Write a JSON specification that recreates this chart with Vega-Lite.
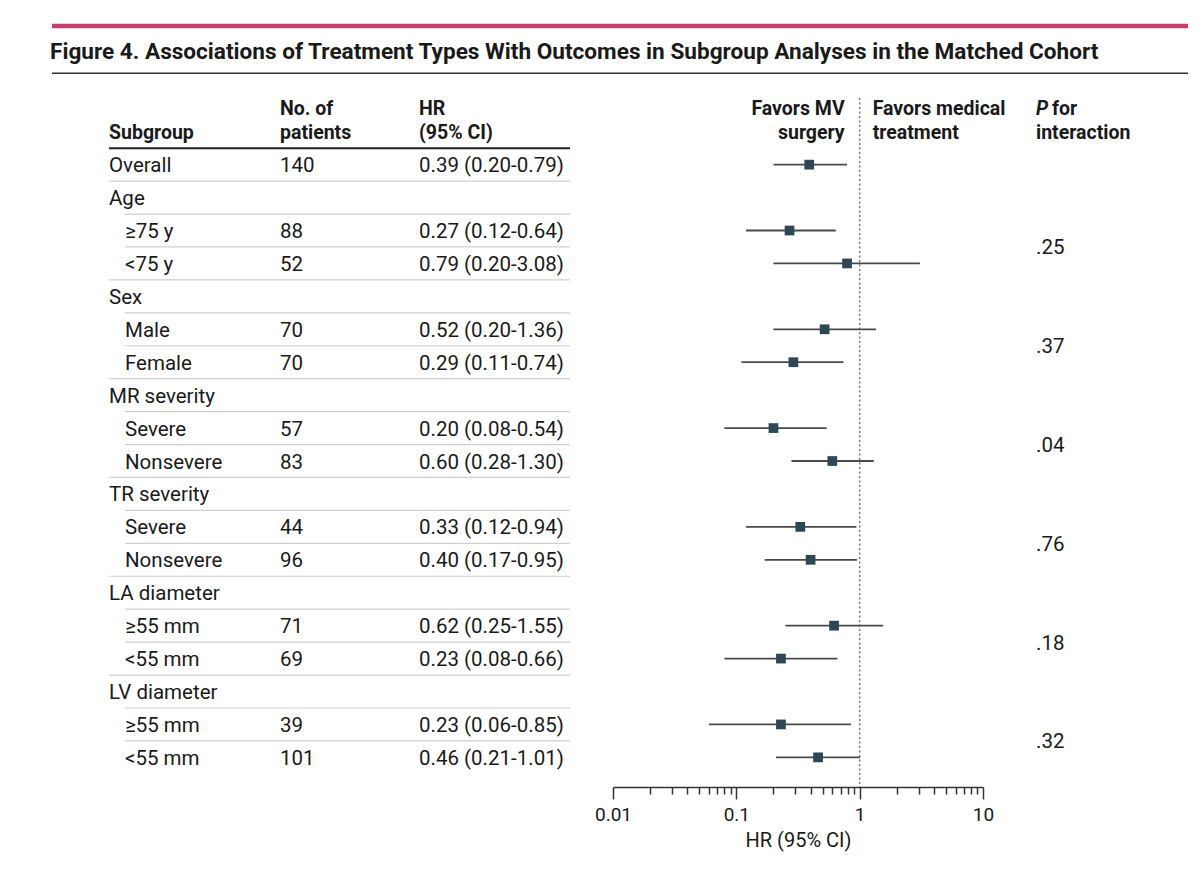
{
  "$schema": "https://vega.github.io/schema/vega-lite/v6.json",
  "width": 1136,
  "height": 787,
  "padding": {"left": 49, "top": 0, "right": 15, "bottom": 20},
  "background": "white",
  "config": {
    "view": {"stroke": null},
    "font": "Roboto",
    "text": {"font": "Roboto", "color": "#1a1a1a"}
  },
  "datasets": {
    "rows": [
      {"r": 0, "label": "Overall", "depth": 0, "n": "140", "hr": 0.39, "lo": 0.20, "hi": 0.79, "hrtxt": "0.39 (0.20-0.79)"},
      {"r": 1, "label": "Age", "depth": 0},
      {"r": 2, "label": "≥75 y", "depth": 1, "n": "88", "hr": 0.27, "lo": 0.12, "hi": 0.64, "hrtxt": "0.27 (0.12-0.64)", "group": "Age", "p": ".25"},
      {"r": 3, "label": "<75 y", "depth": 1, "n": "52", "hr": 0.79, "lo": 0.20, "hi": 3.08, "hrtxt": "0.79 (0.20-3.08)", "group": "Age", "p": ".25"},
      {"r": 4, "label": "Sex", "depth": 0},
      {"r": 5, "label": "Male", "depth": 1, "n": "70", "hr": 0.52, "lo": 0.20, "hi": 1.36, "hrtxt": "0.52 (0.20-1.36)", "group": "Sex", "p": ".37"},
      {"r": 6, "label": "Female", "depth": 1, "n": "70", "hr": 0.29, "lo": 0.11, "hi": 0.74, "hrtxt": "0.29 (0.11-0.74)", "group": "Sex", "p": ".37"},
      {"r": 7, "label": "MR severity", "depth": 0},
      {"r": 8, "label": "Severe", "depth": 1, "n": "57", "hr": 0.20, "lo": 0.08, "hi": 0.54, "hrtxt": "0.20 (0.08-0.54)", "group": "MR severity", "p": ".04"},
      {"r": 9, "label": "Nonsevere", "depth": 1, "n": "83", "hr": 0.60, "lo": 0.28, "hi": 1.30, "hrtxt": "0.60 (0.28-1.30)", "group": "MR severity", "p": ".04"},
      {"r": 10, "label": "TR severity", "depth": 0},
      {"r": 11, "label": "Severe", "depth": 1, "n": "44", "hr": 0.33, "lo": 0.12, "hi": 0.94, "hrtxt": "0.33 (0.12-0.94)", "group": "TR severity", "p": ".76"},
      {"r": 12, "label": "Nonsevere", "depth": 1, "n": "96", "hr": 0.40, "lo": 0.17, "hi": 0.95, "hrtxt": "0.40 (0.17-0.95)", "group": "TR severity", "p": ".76"},
      {"r": 13, "label": "LA diameter", "depth": 0},
      {"r": 14, "label": "≥55 mm", "depth": 1, "n": "71", "hr": 0.62, "lo": 0.25, "hi": 1.55, "hrtxt": "0.62 (0.25-1.55)", "group": "LA diameter", "p": ".18"},
      {"r": 15, "label": "<55 mm", "depth": 1, "n": "69", "hr": 0.23, "lo": 0.08, "hi": 0.66, "hrtxt": "0.23 (0.08-0.66)", "group": "LA diameter", "p": ".18"},
      {"r": 16, "label": "LV diameter", "depth": 0},
      {"r": 17, "label": "≥55 mm", "depth": 1, "n": "39", "hr": 0.23, "lo": 0.06, "hi": 0.85, "hrtxt": "0.23 (0.06-0.85)", "group": "LV diameter", "p": ".32"},
      {"r": 18, "label": "<55 mm", "depth": 1, "n": "101", "hr": 0.46, "lo": 0.21, "hi": 1.01, "hrtxt": "0.46 (0.21-1.01)", "group": "LV diameter", "p": ".32"}
    ],
    "headers": [
      {"c": 0, "t": "\nSubgroup"},
      {"c": 2, "t": "No. of\npatients"},
      {"c": 3, "t": "HR\n(95% CI)"},
      {"c": 5, "t": "\ninteraction"}
    ]
  },
  "data": {"name": "rows"},
  "layer": [
    {
      "layer": [
        {
          "data": {"values": [{}]},
          "mark": {"type": "text", "align": "left", "baseline": "alphabetic", "fontSize": 22.6, "fontWeight": "bold", "dx": -2},
          "encoding": {
            "x": {"datum": -1, "type": "quantitative", "axis": null,
                  "scale": {"type": "linear", "domain": [-1, 0, 1, 2, 3, 4, 5], "range": [0, 57, 73, 228, 367, 518, 984], "nice": false, "zero": false}},
            "y": {"datum": -3.199, "type": "quantitative", "axis": null,
                  "scale": {"domain": [-5, 18.9], "reverse": true, "nice": false, "zero": false}},
            "text": {"value": "Figure 4. Associations of Treatment Types With Outcomes in Subgroup Analyses in the Matched Cohort"}
          }
        },
        {
          "data": {"values": [{}]},
          "mark": {"type": "rule", "color": "#c8406a", "strokeWidth": 4.5},
          "encoding": {"y": {"datum": -4.2104, "type": "quantitative", "axis": null}}
        },
        {
          "data": {"values": [{}]},
          "mark": {"type": "rule", "color": "#333333", "strokeWidth": 1.5},
          "encoding": {"y": {"datum": -2.774, "type": "quantitative", "axis": null}}
        },
        {
          "data": {"values": [{}]},
          "mark": {"type": "rule", "color": "#222222", "strokeWidth": 2},
          "encoding": {
            "x": {"datum": 0, "type": "quantitative", "axis": null},
            "x2": {"datum": 4},
            "y": {"datum": -0.5, "type": "quantitative", "axis": null}
          }
        },
        {
          "transform": [{"filter": "datum.r > 0"}],
          "mark": {"type": "rule", "color": "#cfcfcf", "strokeWidth": 1.2, "yOffset": -16.46},
          "encoding": {
            "x": {"field": "depth", "type": "quantitative", "axis": null},
            "x2": {"datum": 4},
            "y": {"field": "r", "type": "quantitative", "axis": null}
          }
        },
        {
          "mark": {"type": "text", "align": "left", "baseline": "middle", "fontSize": 20.5, "dy": 1.5},
          "encoding": {
            "x": {"field": "depth", "type": "quantitative", "axis": null},
            "y": {"field": "r", "type": "quantitative", "axis": null},
            "text": {"field": "label", "type": "nominal"}
          }
        },
        {
          "transform": [{"filter": "isValid(datum.n)"}],
          "mark": {"type": "text", "align": "left", "baseline": "middle", "fontSize": 20.5, "dy": 1.5},
          "encoding": {
            "x": {"datum": 2, "type": "quantitative", "axis": null},
            "y": {"field": "r", "type": "quantitative", "axis": null},
            "text": {"field": "n", "type": "nominal"}
          }
        },
        {
          "transform": [{"filter": "isValid(datum.hrtxt)"}],
          "mark": {"type": "text", "align": "left", "baseline": "middle", "fontSize": 20.5, "dy": 1.5},
          "encoding": {
            "x": {"datum": 3, "type": "quantitative", "axis": null},
            "y": {"field": "r", "type": "quantitative", "axis": null},
            "text": {"field": "hrtxt", "type": "nominal"}
          }
        },
        {
          "transform": [
            {"filter": "isValid(datum.p)"},
            {"aggregate": [{"op": "mean", "field": "r", "as": "r"}], "groupby": ["group", "p"]}
          ],
          "mark": {"type": "text", "align": "left", "baseline": "middle", "fontSize": 20.5, "dy": 1.5},
          "encoding": {
            "x": {"datum": 5, "type": "quantitative", "axis": null},
            "y": {"field": "r", "type": "quantitative", "axis": null},
            "text": {"field": "p", "type": "nominal"}
          }
        },
        {
          "data": {"name": "headers"},
          "mark": {"type": "text", "align": "left", "baseline": "alphabetic", "fontSize": 19.5, "fontWeight": "bold", "lineBreak": "\n", "lineHeight": 24.5},
          "encoding": {
            "x": {"field": "c", "type": "quantitative", "axis": null},
            "y": {"datum": -1.5077, "type": "quantitative", "axis": null},
            "text": {"field": "t", "type": "nominal"}
          }
        },
        {
          "data": {"values": [{}]},
          "mark": {"type": "text", "align": "left", "baseline": "alphabetic", "fontSize": 19.5, "fontWeight": "bold", "fontStyle": "italic", "lineBreak": "\n", "lineHeight": 24.5},
          "encoding": {
            "x": {"datum": 5, "type": "quantitative", "axis": null},
            "y": {"datum": -1.5077, "type": "quantitative", "axis": null},
            "text": {"value": "P\n"}
          }
        },
        {
          "data": {"values": [{}]},
          "mark": {"type": "text", "align": "left", "baseline": "alphabetic", "fontSize": 19.5, "fontWeight": "bold", "lineBreak": "\n", "lineHeight": 24.5, "dx": 16},
          "encoding": {
            "x": {"datum": 5, "type": "quantitative", "axis": null},
            "y": {"datum": -1.5077, "type": "quantitative", "axis": null},
            "text": {"value": "for\n"}
          }
        }
      ]
    },
    {
      "layer": [
        {
          "data": {"values": [{}]},
          "mark": {"type": "rule", "color": "#777777", "strokeWidth": 1.5, "strokeDash": [2, 2.5]},
          "encoding": {
            "x": {"datum": 1, "type": "quantitative",
                  "scale": {"type": "log", "domain": [0.01, 10], "range": [561, 931], "nice": false},
                  "axis": {
                    "values": [0.01, 0.02, 0.03, 0.04, 0.05, 0.06, 0.07, 0.08, 0.09, 0.1, 0.2, 0.3, 0.4, 0.5, 0.6, 0.7, 0.8, 0.9, 1, 2, 3, 4, 5, 6, 7, 8, 9, 10],
                    "title": "HR (95% CI)",
                    "labelExpr": "datum.value === 0.01 ? '0.01' : datum.value === 0.1 ? '0.1' : datum.value === 1 ? '1' : datum.value === 10 ? '10' : ''",
                    "tickSize": {"condition": {"test": "datum.value === 0.01 || datum.value === 0.1 || datum.value === 1 || datum.value === 10", "value": 12}, "value": 7},
                    "grid": false,
                    "domainColor": "#333333",
                    "domainWidth": 1.5,
                    "tickColor": "#333333",
                    "tickWidth": 1.5,
                    "labelFont": "Roboto",
                    "labelFontSize": 19,
                    "labelColor": "#1a1a1a",
                    "labelPadding": 6,
                    "labelFlush": false,
                    "labelOverlap": false,
                    "titleFont": "Roboto",
                    "titleFontSize": 20,
                    "titleFontWeight": "normal",
                    "titleColor": "#1a1a1a",
                    "titlePadding": 6
                  }},
            "y": {"datum": -2.024, "type": "quantitative", "axis": null},
            "y2": {"datum": 18.9}
          }
        },
        {
          "transform": [{"filter": "isValid(datum.hr)"}],
          "mark": {"type": "rule", "color": "#4a4a4a", "strokeWidth": 1.8},
          "encoding": {
            "x": {"field": "lo", "type": "quantitative"},
            "x2": {"field": "hi"},
            "y": {"field": "r", "type": "quantitative", "axis": null}
          }
        },
        {
          "transform": [{"filter": "isValid(datum.hr)"}],
          "mark": {"type": "square", "filled": true, "size": 95, "color": "#2d4854", "opacity": 1},
          "encoding": {
            "x": {"field": "hr", "type": "quantitative"},
            "y": {"field": "r", "type": "quantitative", "axis": null}
          }
        },
        {
          "data": {"values": [{}]},
          "mark": {"type": "text", "align": "right", "baseline": "alphabetic", "fontSize": 19.5, "fontWeight": "bold", "lineBreak": "\n", "lineHeight": 24.5, "dx": -15},
          "encoding": {
            "x": {"datum": 1, "type": "quantitative"},
            "y": {"datum": -1.5077, "type": "quantitative", "axis": null},
            "text": {"value": "Favors MV\nsurgery"}
          }
        },
        {
          "data": {"values": [{}]},
          "mark": {"type": "text", "align": "left", "baseline": "alphabetic", "fontSize": 19.5, "fontWeight": "bold", "lineBreak": "\n", "lineHeight": 24.5, "dx": 13},
          "encoding": {
            "x": {"datum": 1, "type": "quantitative"},
            "y": {"datum": -1.5077, "type": "quantitative", "axis": null},
            "text": {"value": "Favors medical\ntreatment"}
          }
        }
      ]
    }
  ],
  "resolve": {"scale": {"x": "independent"}}
}
